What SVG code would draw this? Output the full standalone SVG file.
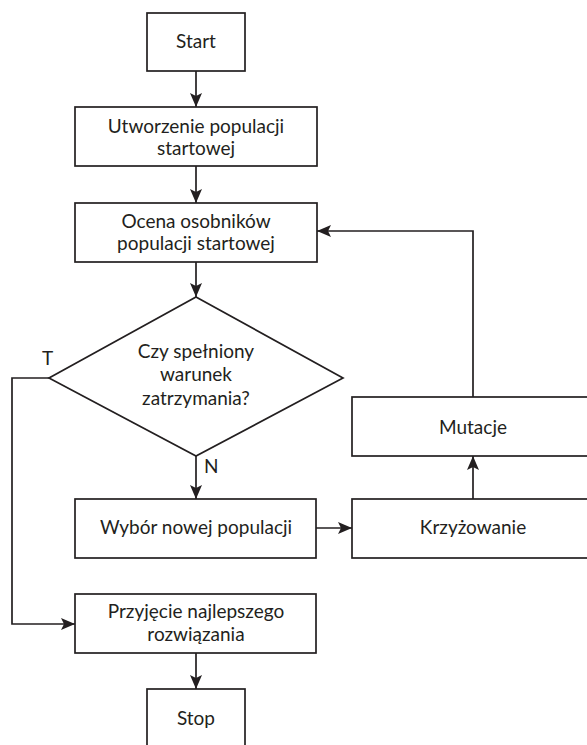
<svg xmlns="http://www.w3.org/2000/svg" width="587" height="745" viewBox="0 0 587 745">
  <defs>
    <marker id="arrow" viewBox="0 0 14 12" refX="14" refY="6" markerWidth="14" markerHeight="12" markerUnits="userSpaceOnUse" orient="auto">
      <path d="M0,0 L14,6 L0,12 L3,6 Z" fill="#231f20"/>
    </marker>
    <style>
      .shape { fill: #ffffff; stroke: #231f20; stroke-width: 1.7; }
      .link { fill: none; stroke: #231f20; stroke-width: 1.7; }
      .label { font-family: "Lato", "Liberation Sans", sans-serif; font-size: 19px; fill: #231f20; text-anchor: middle; }
      .tag { font-family: "Lato", "Liberation Sans", sans-serif; font-size: 19px; fill: #231f20; }
    </style>
  </defs>
  <rect width="587" height="745" fill="#ffffff"/>

  <g id="connectors">
    <line class="link" x1="196" y1="71" x2="196" y2="107" marker-end="url(#arrow)"/>
    <line class="link" x1="196" y1="166" x2="196" y2="203" marker-end="url(#arrow)"/>
    <line class="link" x1="196" y1="262" x2="196" y2="297" marker-end="url(#arrow)"/>
    <line class="link" x1="196" y1="456" x2="196" y2="499" marker-end="url(#arrow)"/>
    <polyline class="link" points="49,378 12,378 12,624 75,624" marker-end="url(#arrow)"/>
    <line class="link" x1="316" y1="528" x2="352" y2="528" marker-end="url(#arrow)"/>
    <line class="link" x1="473" y1="499" x2="473" y2="456" marker-end="url(#arrow)"/>
    <polyline class="link" points="473,397 473,231 317,231" marker-end="url(#arrow)"/>
    <line class="link" x1="196" y1="653" x2="196" y2="689" marker-end="url(#arrow)"/>
    <text class="tag" x="42" y="365">T</text>
    <text class="tag" x="204" y="473">N</text>
  </g>

  <g id="start">
    <rect class="shape" x="147" y="13" width="98" height="58"/>
    <text class="label" x="196" y="48">Start</text>
  </g>

  <g id="init-population">
    <rect class="shape" x="75" y="107" width="242" height="59"/>
    <text class="label" x="196" y="133">Utworzenie populacji</text>
    <text class="label" x="196" y="155">startowej</text>
  </g>

  <g id="evaluate">
    <rect class="shape" x="75" y="203" width="242" height="59"/>
    <text class="label" x="196" y="228">Ocena osobników</text>
    <text class="label" x="196" y="250">populacji startowej</text>
  </g>

  <g id="stop-condition">
    <polygon class="shape" points="196,297 343,378 196,456 49,378"/>
    <text class="label" x="196" y="358">Czy spełniony</text>
    <text class="label" x="196" y="381">warunek</text>
    <text class="label" x="196" y="405">zatrzymania?</text>
  </g>

  <g id="selection">
    <rect class="shape" x="75" y="499" width="241" height="59"/>
    <text class="label" x="196" y="534">Wybór nowej populacji</text>
  </g>

  <g id="crossover">
    <rect class="shape" x="352" y="499" width="242" height="59"/>
    <text class="label" x="473" y="534">Krzyżowanie</text>
  </g>

  <g id="mutation">
    <rect class="shape" x="352" y="397" width="242" height="59"/>
    <text class="label" x="473" y="434">Mutacje</text>
  </g>

  <g id="best-solution">
    <rect class="shape" x="75" y="594" width="241" height="59"/>
    <text class="label" x="196" y="618">Przyjęcie najlepszego</text>
    <text class="label" x="196" y="641">rozwiązania</text>
  </g>

  <g id="stop">
    <rect class="shape" x="147" y="689" width="98" height="70"/>
    <text class="label" x="196" y="725">Stop</text>
  </g>
</svg>
